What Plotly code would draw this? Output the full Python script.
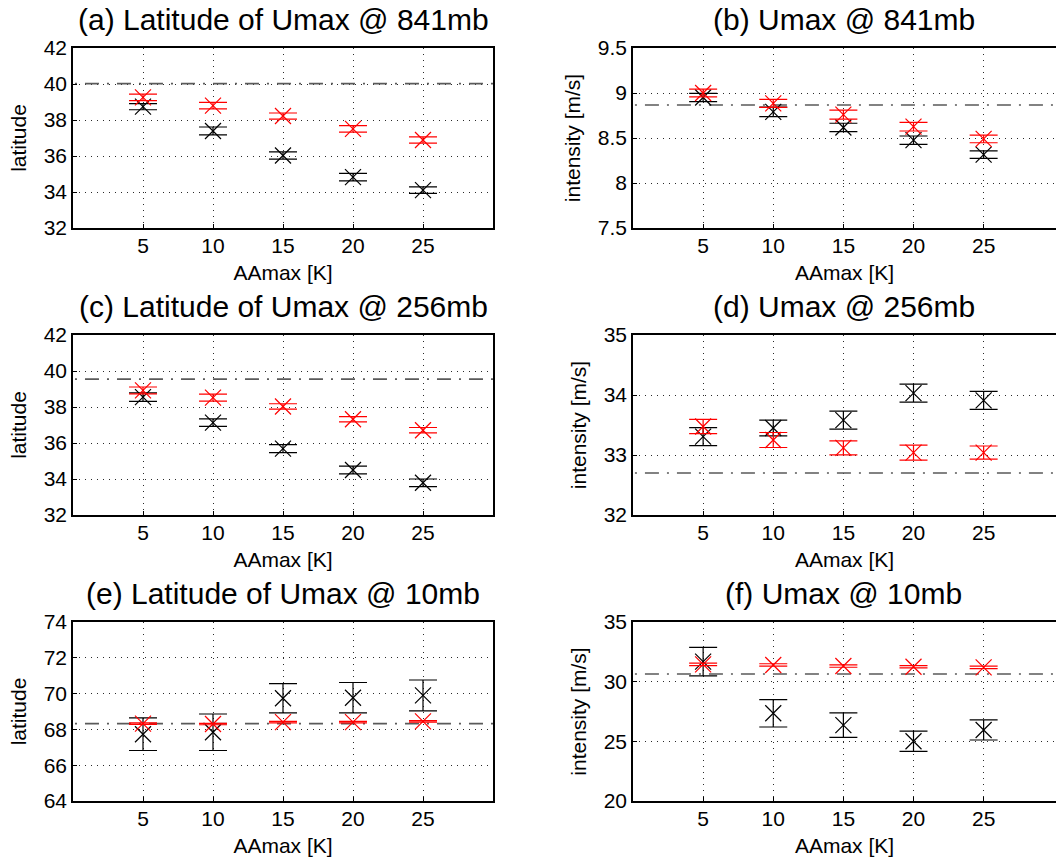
import plotly.graph_objects as go
from plotly.subplots import make_subplots

# ---------------- data ----------------
aamax = [5, 10, 15, 20, 25]

a_black = [38.74, 37.39, 36.03, 34.83, 34.10]
a_black_err = [0.17, 0.22, 0.20, 0.21, 0.18]
a_red = [39.26, 38.80, 38.22, 37.51, 36.89]
a_red_err = [0.18, 0.18, 0.17, 0.18, 0.17]
a_ctrl = 40.02

b_black = [8.95, 8.79, 8.617, 8.476, 8.315]
b_black_err = [0.046, 0.052, 0.047, 0.046, 0.041]
b_red = [9.00, 8.885, 8.76, 8.626, 8.49]
b_red_err = [0.043, 0.045, 0.050, 0.048, 0.043]
b_ctrl = 8.867

c_black = [38.55, 37.13, 35.69, 34.50, 33.79]
c_black_err = [0.24, 0.21, 0.22, 0.21, 0.21]
c_red = [38.92, 38.52, 38.03, 37.32, 36.71]
c_red_err = [0.19, 0.19, 0.15, 0.15, 0.15]
c_ctrl = 39.55

d_black = [33.305, 33.45, 33.58, 34.03, 33.91]
d_black_err = [0.15, 0.13, 0.15, 0.15, 0.15]
d_red = [33.475, 33.25, 33.12, 33.04, 33.04]
d_red_err = [0.12, 0.125, 0.117, 0.125, 0.11]
d_ctrl = 32.70

e_black = [67.73, 67.84, 69.74, 69.77, 69.90]
e_black_err = [0.91, 1.02, 0.82, 0.85, 0.86]
e_red = [68.32, 68.30, 68.41, 68.41, 68.45]
e_red_err = [0.04, 0.04, 0.04, 0.04, 0.04]
e_ctrl = 68.32

f_black = [31.68, 27.35, 26.36, 25.01, 25.95]
f_black_err = [1.20, 1.15, 1.02, 0.85, 0.84]
f_red = [31.45, 31.40, 31.31, 31.25, 31.20]
f_red_err = [0.10, 0.10, 0.10, 0.10, 0.10]
f_ctrl = 30.64

titles = ["(a) Latitude of Umax @ 841mb", "(b) Umax @ 841mb",
          "(c) Latitude of Umax @ 256mb", "(d) Umax @ 256mb",
          "(e) Latitude of Umax @ 10mb", "(f) Umax @ 10mb"]
ylabels = ["latitude", "intensity [m/s]"] * 3
xlabel = "AAmax [K]"

a_ticks = [32, 34, 36, 38, 40, 42]
b_ticks = [7.5, 8, 8.5, 9, 9.5]
b_ticktext = ["7.5", "8", "8.5", "9", "9.5"]
d_ticks = [32, 33, 34, 35]
e_ticks = [64, 66, 68, 70, 72, 74]
f_ticks = [20, 25, 30, 35]

# ---------------- figure ----------------
W, H = 1056, 859
FONT = "Liberation Sans, Arial, Helvetica, sans-serif"

panels = [
    dict(blk=a_black, blke=a_black_err, red=a_red, rede=a_red_err, ctrl=a_ctrl,
         yr=[32, 42], tv=a_ticks, tt=[str(t) for t in a_ticks]),
    dict(blk=b_black, blke=b_black_err, red=b_red, rede=b_red_err, ctrl=b_ctrl,
         yr=[7.5, 9.5], tv=b_ticks, tt=b_ticktext),
    dict(blk=c_black, blke=c_black_err, red=c_red, rede=c_red_err, ctrl=c_ctrl,
         yr=[32, 42], tv=a_ticks, tt=[str(t) for t in a_ticks]),
    dict(blk=d_black, blke=d_black_err, red=d_red, rede=d_red_err, ctrl=d_ctrl,
         yr=[32, 35], tv=d_ticks, tt=[str(t) for t in d_ticks]),
    dict(blk=e_black, blke=e_black_err, red=e_red, rede=e_red_err, ctrl=e_ctrl,
         yr=[64, 74], tv=e_ticks, tt=[str(t) for t in e_ticks]),
    dict(blk=f_black, blke=f_black_err, red=f_red, rede=f_red_err, ctrl=f_ctrl,
         yr=[20, 35], tv=f_ticks, tt=[str(t) for t in f_ticks]),
]

fig = make_subplots(rows=3, cols=2)

# pixel geometry of the plot areas
col_px = [(73, 493), (633, 1056)]
col_rng = [[0, 30], [0, 30.16]]
row_px = [(48, 228), (335, 515), (622, 801)]
title_y = [20, 306, 593]

GRID = dict(showgrid=True, gridcolor="#2a2a2a", griddash="1px,5px", gridwidth=1)
LINE = dict(showline=True, linecolor="black", linewidth=1.5, mirror=True,
            ticks="inside", ticklen=4, tickcolor="black", zeroline=False,
            automargin=False, fixedrange=True)

for i, p in enumerate(panels):
    r, c = i // 2 + 1, i % 2 + 1
    xr = col_rng[c - 1]
    # reference (control) level as a dash-dot line across the panel
    fig.add_trace(go.Scatter(x=[xr[0] - 1.43, xr[1]], y=[p["ctrl"], p["ctrl"]], mode="lines",
                             line=dict(color="#5a5a5a", width=1.6, dash="14px,8px,2px,8px"),
                             showlegend=False, hoverinfo="skip"), row=r, col=c)
    for vals, errs, col in ((p["blk"], p["blke"], "#000000"), (p["red"], p["rede"], "#ff0000")):
        fig.add_trace(go.Scatter(
            x=aamax, y=vals, mode="markers",
            marker=dict(symbol="x-thin", size=16, line=dict(color=col, width=1.2)),
            error_y=dict(type="data", array=errs, visible=True, color=col,
                         thickness=1.2, width=14),
            showlegend=False), row=r, col=c)

    x0, x1 = col_px[c - 1]
    y0, y1 = row_px[r - 1]
    axn = "" if i == 0 else str(i + 1)
    fig.update_layout(**{
        "xaxis" + axn: dict(domain=[x0 / W, x1 / W], range=xr,
                            tickvals=aamax, ticktext=[str(v) for v in aamax],
                            tickfont=dict(size=21, color="black"), ticklabelstandoff=-2,
                            title=dict(text=xlabel, font=dict(size=21, color="black"), standoff=9),
                            **GRID, **LINE),
        "yaxis" + axn: dict(domain=[1 - y1 / H, 1 - y0 / H], range=p["yr"],
                            tickvals=p["tv"], ticktext=p["tt"],
                            tickfont=dict(size=21, color="black"),
                            title=dict(text=ylabels[i], font=dict(size=21, color="black"), standoff=11),
                            **GRID, **LINE),
    })
    fig.add_annotation(text=titles[i], xref="paper", yref="paper",
                       x=(x0 + x1) / 2 / W if c == 1 else (633 + 1054) / 2 / W,
                       y=1 - title_y[r - 1] / H, xanchor="center", yanchor="middle",
                       showarrow=False, font=dict(size=30, color="black", family=FONT))

fig.update_layout(width=W, height=H, margin=dict(l=0, r=0, t=0, b=0),
                  paper_bgcolor="white", plot_bgcolor="white",
                  font=dict(family=FONT, color="black"), showlegend=False)

fig.write_html("out.html", config={"displayModeBar": False},
               post_script="document.body.style.margin='0px';document.body.style.padding='0px';")
